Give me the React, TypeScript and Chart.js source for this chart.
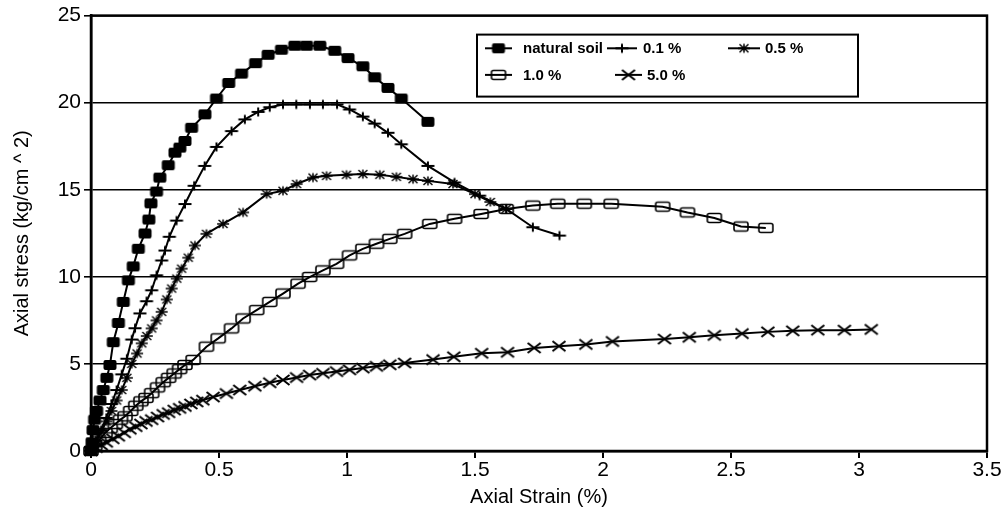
import React, { useEffect, useRef } from 'react';
import { Chart, registerables } from 'chart.js';

Chart.register(...registerables);

const FONT = '"Liberation Sans", Arial, Helvetica, sans-serif';

const seriesLabels = ['natural soil', '0.1 %', '0.5 %', '1.0 %', '5.0 %'];

const xTitle = 'Axial Strain (%)';
const yTitle = 'Axial stress (kg/cm ^ 2)';
const xRange = [0, 3.5];
const yRange = [0, 25];
const xStep = 0.5;
const yStep = 5;

// natural soil
const naturalSoilStrain = [0, 0.004, 0.008, 0.014, 0.022, 0.035, 0.048, 0.062, 0.074, 0.087, 0.107, 0.126, 0.146, 0.165, 0.185, 0.211, 0.226, 0.234, 0.256, 0.269, 0.302, 0.328, 0.347, 0.367, 0.393, 0.445, 0.49, 0.538, 0.588, 0.643, 0.692, 0.744, 0.796, 0.842, 0.894, 0.952, 1.004, 1.062, 1.108, 1.16, 1.212, 1.316];
const naturalSoilStress = [0, 0.5, 1.2, 1.8, 2.3, 2.9, 3.5, 4.2, 4.94, 6.25, 7.35, 8.56, 9.8, 10.6, 11.61, 12.49, 13.29, 14.22, 14.9, 15.7, 16.41, 17.13, 17.42, 17.8, 18.56, 19.33, 20.24, 21.13, 21.67, 22.27, 22.75, 23.04, 23.27, 23.27, 23.27, 22.98, 22.56, 22.09, 21.46, 20.85, 20.24, 18.9];

// 0.1 %
const pct01Strain = [0, 0.02, 0.04, 0.06, 0.08, 0.1, 0.12, 0.14, 0.159, 0.172, 0.191, 0.217, 0.237, 0.256, 0.276, 0.289, 0.306, 0.334, 0.367, 0.403, 0.444, 0.49, 0.549, 0.601, 0.653, 0.698, 0.75, 0.802, 0.855, 0.906, 0.961, 1.01, 1.062, 1.108, 1.16, 1.212, 1.316, 1.42, 1.518, 1.622, 1.726, 1.83];
const pct01Stress = [0, 0.6, 1.2, 1.9, 2.7, 3.5, 4.4, 5.3, 6.4, 7.05, 7.9, 8.6, 9.23, 10.09, 10.94, 11.51, 12.3, 13.23, 14.18, 15.23, 16.37, 17.46, 18.37, 19.04, 19.47, 19.74, 19.9, 19.9, 19.9, 19.9, 19.9, 19.61, 19.2, 18.8, 18.27, 17.61, 16.37, 15.42, 14.66, 13.9, 12.85, 12.37];

// 0.5 %
const pct05Strain = [0, 0.02, 0.04, 0.06, 0.08, 0.1, 0.12, 0.14, 0.159, 0.18, 0.198, 0.218, 0.237, 0.256, 0.276, 0.296, 0.315, 0.335, 0.354, 0.38, 0.406, 0.451, 0.516, 0.594, 0.686, 0.75, 0.803, 0.867, 0.92, 0.998, 1.062, 1.128, 1.193, 1.258, 1.316, 1.414, 1.5, 1.56, 1.622];
const pct05Stress = [0, 0.5, 1.1, 1.7, 2.3, 2.9, 3.5, 4.2, 5.0, 5.6, 6.18, 6.6, 7.04, 7.5, 7.99, 8.7, 9.33, 9.9, 10.47, 11.1, 11.8, 12.47, 13.04, 13.7, 14.75, 14.94, 15.33, 15.7, 15.8, 15.86, 15.9, 15.86, 15.74, 15.61, 15.51, 15.33, 14.75, 14.3, 13.9];

// 1.0 %
const pct10Strain = [0, 0.015, 0.03, 0.055, 0.075, 0.095, 0.115, 0.133, 0.155, 0.175, 0.195, 0.215, 0.237, 0.26, 0.282, 0.303, 0.325, 0.346, 0.367, 0.399, 0.451, 0.497, 0.549, 0.594, 0.647, 0.698, 0.75, 0.809, 0.854, 0.906, 0.959, 1.01, 1.062, 1.115, 1.167, 1.225, 1.323, 1.42, 1.524, 1.622, 1.726, 1.823, 1.927, 2.032, 2.233, 2.33, 2.435, 2.539, 2.636];
const pct10Stress = [0, 0.3, 0.6, 1.04, 1.3, 1.55, 1.8, 1.99, 2.3, 2.6, 2.85, 3.05, 3.32, 3.65, 3.95, 4.2, 4.45, 4.7, 4.94, 5.23, 5.99, 6.47, 7.04, 7.61, 8.09, 8.56, 9.04, 9.61, 9.99, 10.37, 10.75, 11.23, 11.61, 11.9, 12.18, 12.47, 13.04, 13.33, 13.61, 13.9, 14.09, 14.2, 14.2, 14.2, 14.03, 13.7, 13.38, 12.89, 12.81];

// 5.0 %
const pct50Strain = [0, 0.02, 0.04, 0.06, 0.085, 0.107, 0.13, 0.152, 0.175, 0.195, 0.215, 0.237, 0.26, 0.282, 0.303, 0.325, 0.346, 0.367, 0.39, 0.413, 0.437, 0.477, 0.529, 0.581, 0.64, 0.698, 0.75, 0.803, 0.854, 0.906, 0.959, 1.01, 1.062, 1.115, 1.167, 1.225, 1.336, 1.417, 1.526, 1.627, 1.731, 1.828, 1.933, 2.037, 2.24, 2.337, 2.435, 2.543, 2.644, 2.741, 2.839, 2.943, 3.048];
const pct50Stress = [0, 0.2, 0.35, 0.5, 0.7, 0.85, 1.05, 1.25, 1.4, 1.55, 1.7, 1.8, 1.95, 2.1, 2.2, 2.35, 2.45, 2.56, 2.7, 2.82, 2.92, 3.1, 3.3, 3.5, 3.72, 3.92, 4.08, 4.22, 4.36, 4.46, 4.56, 4.66, 4.76, 4.86, 4.95, 5.05, 5.25, 5.41, 5.61, 5.67, 5.92, 6.02, 6.12, 6.29, 6.43, 6.53, 6.64, 6.74, 6.84, 6.9, 6.94, 6.94, 6.98];

type MarkerKind = 'filledRect' | 'plus' | 'star' | 'openRect' | 'cross';

const seriesMarkers: MarkerKind[] = ['filledRect', 'plus', 'star', 'openRect', 'cross'];
const seriesStrain = [naturalSoilStrain, pct01Strain, pct05Strain, pct10Strain, pct50Strain];
const seriesStress = [naturalSoilStress, pct01Stress, pct05Stress, pct10Stress, pct50Stress];

function roundRectPath(ctx: CanvasRenderingContext2D, x: number, y: number, w: number, h: number, r: number) {
  ctx.beginPath();
  ctx.moveTo(x + r, y);
  ctx.lineTo(x + w - r, y);
  ctx.quadraticCurveTo(x + w, y, x + w, y + r);
  ctx.lineTo(x + w, y + h - r);
  ctx.quadraticCurveTo(x + w, y + h, x + w - r, y + h);
  ctx.lineTo(x + r, y + h);
  ctx.quadraticCurveTo(x, y + h, x, y + h - r);
  ctx.lineTo(x, y + r);
  ctx.quadraticCurveTo(x, y, x + r, y);
  ctx.closePath();
}

// Draws one marker glyph into a small offscreen canvas used as a point style.
function makeMarker(kind: MarkerKind): HTMLCanvasElement {
  const c = document.createElement('canvas');
  const w = 18;
  const h = 14;
  c.width = w;
  c.height = h;
  const ctx = c.getContext('2d') as CanvasRenderingContext2D;
  ctx.strokeStyle = '#000';
  ctx.fillStyle = '#000';
  const cx = w / 2;
  const cy = h / 2;
  switch (kind) {
    case 'filledRect':
      roundRectPath(ctx, cx - 6.5, cy - 5, 13, 10, 2);
      ctx.fill();
      break;
    case 'plus':
      ctx.lineWidth = 2;
      ctx.beginPath();
      ctx.moveTo(cx - 6.5, cy);
      ctx.lineTo(cx + 6.5, cy);
      ctx.moveTo(cx, cy - 4.5);
      ctx.lineTo(cx, cy + 4.5);
      ctx.stroke();
      break;
    case 'star':
      ctx.lineWidth = 1.5;
      ctx.beginPath();
      ctx.moveTo(cx - 6, cy);
      ctx.lineTo(cx + 6, cy);
      ctx.moveTo(cx - 4.5, cy - 4);
      ctx.lineTo(cx + 4.5, cy + 4);
      ctx.moveTo(cx - 4.5, cy + 4);
      ctx.lineTo(cx + 4.5, cy - 4);
      ctx.moveTo(cx, cy - 4.5);
      ctx.lineTo(cx, cy + 4.5);
      ctx.stroke();
      break;
    case 'openRect':
      ctx.lineWidth = 1.6;
      roundRectPath(ctx, cx - 7, cy - 4.5, 14, 9, 2);
      ctx.stroke();
      break;
    case 'cross':
      ctx.lineWidth = 2;
      ctx.beginPath();
      ctx.moveTo(cx - 6.5, cy - 5);
      ctx.lineTo(cx + 6.5, cy + 5);
      ctx.moveTo(cx - 6.5, cy + 5);
      ctx.lineTo(cx + 6.5, cy - 5);
      ctx.stroke();
      break;
  }
  return c;
}

// legend slots: [row, lineStart, lineEnd, textX] relative to the legend box
const legendSlots = [
  [0, 8, 35, 46],
  [0, 130, 160, 166],
  [0, 251, 283, 288],
  [1, 8, 35, 46],
  [1, 138, 165, 170],
];

export default function App() {
  const canvasRef = useRef<HTMLCanvasElement | null>(null);

  useEffect(() => {
    const canvas = canvasRef.current;
    if (!canvas) return;
    const markers = seriesMarkers.map((k) => makeMarker(k));

    const framePlugin = {
      id: 'plotFrame',
      beforeDatasetsDraw(chart: any) {
        const { ctx, chartArea } = chart;
        ctx.save();
        ctx.strokeStyle = '#000';
        ctx.lineWidth = 2.5;
        ctx.strokeRect(chartArea.left, chartArea.top, chartArea.right - chartArea.left, chartArea.bottom - chartArea.top);
        ctx.restore();
      },
    };

    const boxLegendPlugin = {
      id: 'boxLegend',
      afterDraw(chart: any) {
        const { ctx, chartArea } = chart;
        const bx = chartArea.left + 386;
        const by = chartArea.top + 19;
        const bw = 381;
        const bh = 62;
        const rowY = [13.7, 40.3];
        ctx.save();
        ctx.fillStyle = '#fff';
        ctx.fillRect(bx, by, bw, bh);
        ctx.strokeStyle = '#000';
        ctx.lineWidth = 2;
        ctx.strokeRect(bx, by, bw, bh);
        ctx.font = `bold 15px ${FONT}`;
        ctx.textBaseline = 'middle';
        ctx.textAlign = 'left';
        ctx.fillStyle = '#000';
        seriesLabels.forEach((label, i) => {
          const [row, x0, x1, tx] = legendSlots[i];
          const y = by + rowY[row];
          ctx.lineWidth = 2;
          ctx.beginPath();
          ctx.moveTo(bx + x0, y);
          ctx.lineTo(bx + x1, y);
          ctx.stroke();
          const m = markers[i];
          const mx = bx + (x0 + x1) / 2;
          ctx.drawImage(m, mx - m.width / 2, y - m.height / 2);
          ctx.fillText(label, bx + tx, y + 1);
        });
        ctx.restore();
      },
    };

    const chart = new Chart(canvas, {
      type: 'scatter',
      data: {
        datasets: seriesLabels.map((label, i) => ({
          label,
          data: seriesStrain[i].map((x, j) => ({ x, y: seriesStress[i][j] })),
          showLine: true,
          borderColor: '#000',
          backgroundColor: '#000',
          borderWidth: 2,
          tension: 0,
          pointStyle: markers[i] as any,
          pointRadius: 6,
          clip: false as any,
        })),
      },
      options: {
        animation: false,
        responsive: false,
        maintainAspectRatio: false,
        layout: { padding: { top: 14, right: 18, left: 0, bottom: 0 } },
        plugins: {
          legend: { display: false },
          tooltip: { enabled: false },
        },
        scales: {
          x: {
            type: 'linear',
            min: xRange[0],
            max: xRange[1],
            ticks: {
              stepSize: xStep,
              color: '#000',
              font: { family: FONT, size: 21 },
              padding: 0,
              maxRotation: 0,
              callback: (v: any) => String(Math.round(Number(v) * 10) / 10),
            },
            grid: { drawOnChartArea: false, drawTicks: true, tickLength: 7, color: '#000', lineWidth: 2 },
            border: { color: '#000', width: 2.5 },
            title: {
              display: true,
              text: xTitle,
              color: '#000',
              font: { family: FONT, size: 20 },
              padding: { top: 0, bottom: 6 },
            },
            afterFit: (scale: any) => {
              scale.height = 64;
            },
          },
          y: {
            type: 'linear',
            min: yRange[0],
            max: yRange[1],
            ticks: {
              stepSize: yStep,
              color: '#000',
              font: { family: FONT, size: 21 },
              padding: 3,
              callback: (v: any) => String(Math.round(Number(v))),
            },
            grid: { color: '#000', lineWidth: 1.6, tickLength: 7 },
            border: { color: '#000', width: 2.5 },
            title: {
              display: true,
              text: yTitle,
              color: '#000',
              font: { family: FONT, size: 20 },
              padding: { top: 10, bottom: 0 },
            },
            afterFit: (scale: any) => {
              scale.width = 91;
            },
          },
        },
      },
      plugins: [framePlugin, boxLegendPlugin],
    });

    return () => {
      chart.destroy();
    };
  }, []);

  return (
    <div style={{ position: 'absolute', left: 0, top: 0, width: 1005, height: 515, background: '#fff' }}>
      <canvas ref={canvasRef} width={1005} height={515} />
    </div>
  );
}
